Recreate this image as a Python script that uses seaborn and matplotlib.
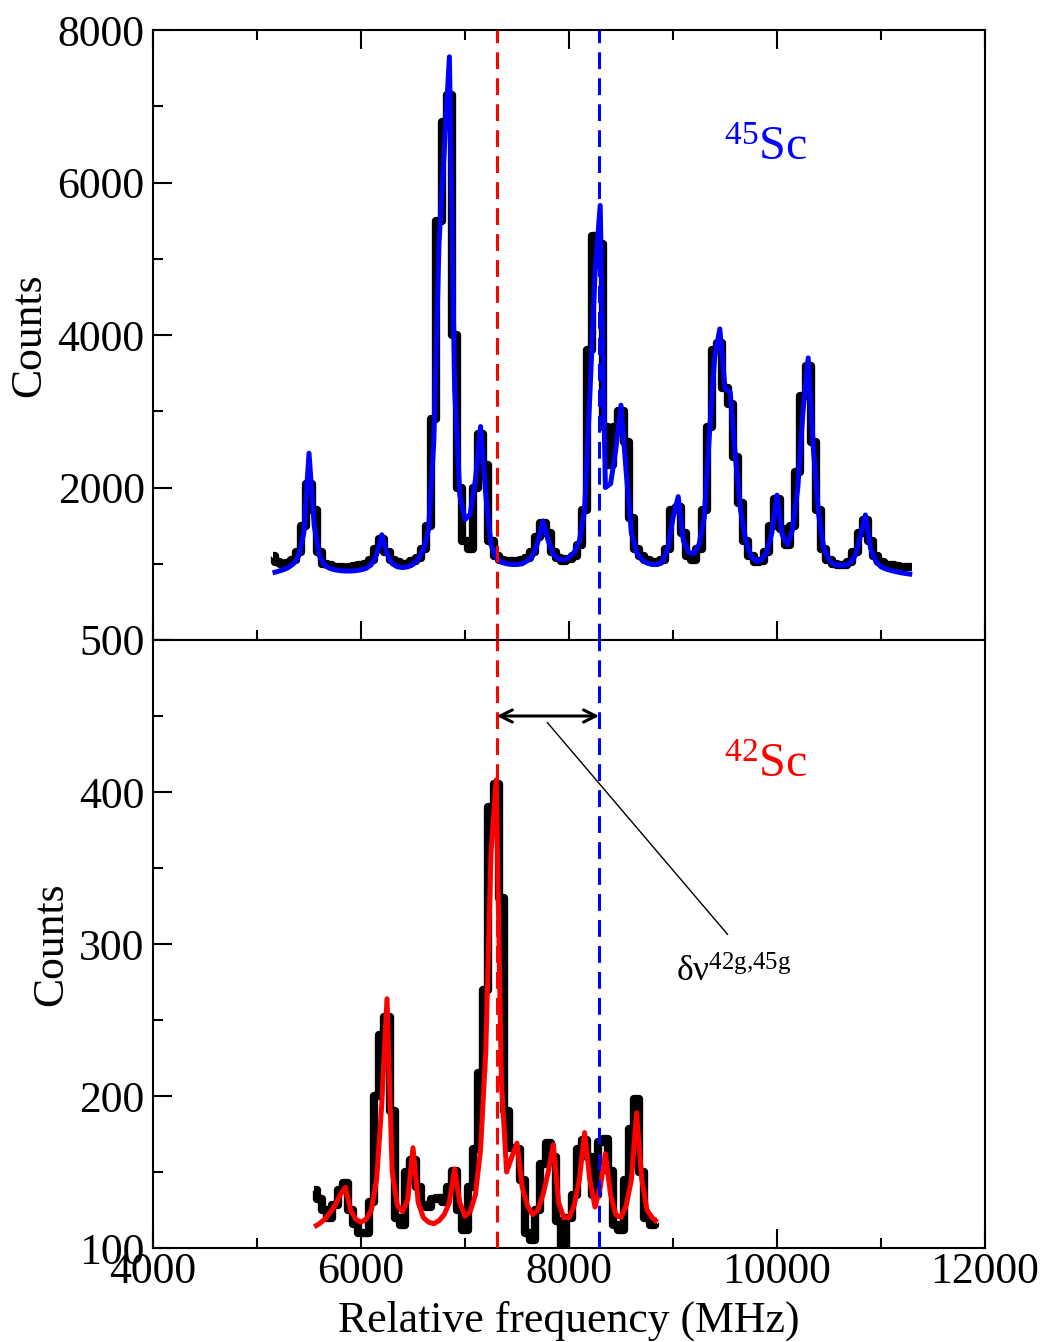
import numpy as np
import pandas as pd
import matplotlib
matplotlib.use("Agg")
import matplotlib.pyplot as plt
from matplotlib.ticker import MultipleLocator, FixedLocator
import seaborn as sns

# ---------------------------------------------------------------------------
# 45Sc reference spectrum (counts per frequency bin) and its hyperfine fit
# ---------------------------------------------------------------------------
freq_45 = list(range(5150, 11301, 50))
counts_45 = [
    1100, 1020, 1000, 1010, 1050, 1150, 1500, 2050, 1700, 1150,   # 5150-5600
    1000, 980, 960, 960, 950, 960, 970, 980, 1000, 1050,          # 5650-6100
    1200, 1320, 1150, 1050, 1020, 1000, 1000, 1030, 1080, 1200,   # 6150-6600
    1500, 2900, 5500, 6800, 7150, 4000, 2000, 1300, 1200, 2000,   # 6650-7100
    2700, 2300, 1300, 1100, 1050, 1040, 1030, 1030, 1050, 1080,   # 7150-7600
    1150, 1350, 1530, 1400, 1150, 1070, 1040, 1060, 1100, 1250,   # 7650-8100
    1700, 3800, 5300, 5200, 2800, 2300, 2800, 3000, 2600, 1600,   # 8150-8600
    1200, 1100, 1050, 1020, 1020, 1050, 1200, 1700, 1750, 1400,   # 8650-9100
    1100, 1050, 1200, 1700, 2800, 3800, 3900, 3300, 3100, 2400,   # 9150-9600
    1800, 1300, 1100, 1020, 1030, 1150, 1500, 1850, 1450, 1250,   # 9650-10100
    1500, 2200, 3200, 3600, 2600, 1700, 1200, 1050, 1000, 980,    # 10150-10600
    990, 1020, 1150, 1400, 1580, 1300, 1100, 1020, 990, 980,      # 10650-11100
    970, 960, 960, 960,                                           # 11150-11300
]
fit_45 = [
    880, 900, 920, 950, 1000, 1100, 1400, 2450, 1500, 1100,
    980, 940, 920, 910, 905, 905, 910, 920, 940, 990,
    1120, 1380, 1130, 1000, 960, 950, 960, 990, 1060, 1180,
    1450, 2600, 5200, 6400, 7650, 3300, 1900, 1580, 1650, 2100,
    2800, 1900, 1250, 1080, 1020, 1000, 990, 990, 1000, 1040,
    1100, 1280, 1560, 1300, 1120, 1060, 1050, 1080, 1150, 1300,
    1700, 3200, 4800, 5700, 2000, 2050, 2500, 3080, 2200, 1400,
    1150, 1050, 1010, 990, 990, 1030, 1200, 1600, 1880, 1300,
    1150, 1130, 1250, 1600, 2700, 3700, 4080, 3300, 3250, 2400,
    1700, 1300, 1100, 1030, 1050, 1150, 1400, 1900, 1380, 1250,
    1450, 2000, 3000, 3700, 2500, 1650, 1200, 1050, 990, 980,
    980, 1010, 1100, 1350, 1640, 1200, 1030, 960, 930, 910,
    895, 880, 870, 860,
]

# ---------------------------------------------------------------------------
# 42Sc spectrum and its fit
# ---------------------------------------------------------------------------
freq_42 = list(range(5550, 8851, 50))
counts_42 = [
    138, 132, 125, 120, 128, 138, 143, 125, 116, 110,   # 5550-6000
    110, 130, 200, 240, 252, 190, 120, 115, 150, 158,   # 6050-6500
    140, 128, 127, 132, 133, 130, 140, 151, 125, 112,   # 6550-7000
    140, 165, 215, 270, 390, 405, 330, 190, 166, 165,   # 7050-7500
    145, 110, 105, 125, 155, 169, 160, 118, 100, 120,   # 7550-8000
    135, 165, 171, 160, 135, 170, 172, 151, 115, 112,   # 8050-8500
    145, 178, 198, 150, 120, 115, 117,                  # 8550-8850
]
fit_42 = [
    114, 116, 119, 123, 128, 135, 140, 125, 119, 117,
    119, 125, 145, 195, 264, 150, 128, 124, 132, 166,
    130, 120, 117, 116, 118, 122, 130, 152, 130, 121,
    124, 135, 165, 230, 360, 408, 210, 150, 160, 169,
    140, 128, 122, 125, 135, 150, 168, 130, 120, 120,
    128, 145, 176, 145, 127, 140, 162, 135, 122, 120,
    128, 145, 189, 145, 125, 120, 117,
]

# Centroid positions of the two isotopes (MHz)
centroid_42 = 7305
centroid_45 = 8290

df45 = pd.DataFrame({"freq": freq_45, "counts": counts_45, "fit": fit_45})
df42 = pd.DataFrame({"freq": freq_42, "counts": counts_42, "fit": fit_42})

sns.set_theme(style="white")
plt.rcParams["font.family"] = ["Liberation Serif", "DejaVu Serif"]
plt.rcParams["mathtext.fontset"] = "custom"
plt.rcParams["mathtext.rm"] = "Liberation Serif"
plt.rcParams["mathtext.it"] = "Liberation Serif:italic"
plt.rcParams["axes.linewidth"] = 1.5
plt.rcParams["axes.edgecolor"] = "black"
plt.rcParams["text.color"] = "black"
plt.rcParams["axes.labelcolor"] = "black"
plt.rcParams["xtick.color"] = "black"
plt.rcParams["ytick.color"] = "black"
plt.rcParams["lines.solid_capstyle"] = "butt"

fig = plt.figure(figsize=(10.45, 13.42), dpi=100)
ax_top = fig.add_axes([0.1464, 0.5231, 0.7962, 0.4545])
ax_bot = fig.add_axes([0.1464, 0.0700, 0.7962, 0.4531])

TICK_FS = 31.5

# --- upper panel: 45Sc -----------------------------------------------------
sns.lineplot(data=df45, x="freq", y="counts", ax=ax_top, color="black",
             lw=6, drawstyle="steps-mid", estimator=None, zorder=2)
sns.lineplot(data=df45, x="freq", y="fit", ax=ax_top, color="#0000ff",
             lw=3.6, estimator=None, zorder=3)
ax_top.set_xlim(4000, 12000)
ax_top.set_ylim(0, 8000)
ax_top.yaxis.set_major_locator(FixedLocator([0, 2000, 4000, 6000, 8000]))
ax_top.set_yticklabels(["", "2000", "4000", "6000", "8000"])
ax_top.yaxis.set_minor_locator(MultipleLocator(1000))
ax_top.xaxis.set_major_locator(MultipleLocator(2000))
ax_top.xaxis.set_minor_locator(MultipleLocator(1000))
ax_top.tick_params(axis="both", which="both", direction="in", top=True,
                   bottom=True, left=True, right=False, labelbottom=False,
                   labelsize=TICK_FS, colors="black", width=1.5)
ax_top.tick_params(axis="both", which="major", length=14, pad=6)
ax_top.tick_params(axis="both", which="minor", length=7)
ax_top.set_xlabel("")
ax_top.set_ylabel("Counts", fontsize=TICK_FS, labelpad=6)
ax_top.text(9490, 6295, r"$^{45}$Sc", color="#0000ff", fontsize=34.5,
            ha="left", va="baseline")

# --- lower panel: 42Sc -----------------------------------------------------
sns.lineplot(data=df42, x="freq", y="counts", ax=ax_bot, color="black",
             lw=6, drawstyle="steps-mid", estimator=None, zorder=2)
sns.lineplot(data=df42, x="freq", y="fit", ax=ax_bot, color="#ff0000",
             lw=3.6, estimator=None, zorder=3)
ax_bot.set_xlim(4000, 12000)
ax_bot.set_ylim(100, 500)
ax_bot.yaxis.set_major_locator(MultipleLocator(100))
ax_bot.yaxis.set_minor_locator(MultipleLocator(50))
ax_bot.xaxis.set_major_locator(MultipleLocator(2000))
ax_bot.xaxis.set_minor_locator(MultipleLocator(1000))
ax_bot.tick_params(axis="both", which="both", direction="in", top=False,
                   bottom=True, left=True, right=False,
                   labelsize=TICK_FS, colors="black", width=1.5)
ax_bot.tick_params(axis="both", which="major", length=14, pad=6)
ax_bot.tick_params(axis="both", which="minor", length=7)
ax_bot.tick_params(axis="x", which="major", pad=3)
ax_bot.set_xlabel("Relative frequency (MHz)", fontsize=TICK_FS, labelpad=6)
ax_bot.set_ylabel("Counts", fontsize=TICK_FS, labelpad=6)
ax_bot.text(9490, 410, r"$^{42}$Sc", color="#ff0000", fontsize=34.5,
            ha="left", va="baseline")

# Isotope centroids through both panels
for ax in (ax_top, ax_bot):
    ax.axvline(centroid_42, color="#ff0000", lw=2.2, ls=(0, (5.5, 3.0)),
               zorder=4)
    ax.axvline(centroid_45, color="#0000ff", lw=2.2, ls=(0, (5.5, 3.0)),
               zorder=4)

# Isotope shift marker
ax_bot.annotate("", xy=(centroid_42, 450), xytext=(centroid_45, 450),
                arrowprops=dict(arrowstyle="<->", color="black", lw=2.2,
                                mutation_scale=22, shrinkA=0, shrinkB=0),
                zorder=5)
ax_bot.plot([7788, 9529], [446, 306], color="black", lw=1.0, zorder=5)
ax_bot.text(9029, 275, r"$\mathrm{δν}^{\mathrm{42g{,}45g}}$", fontsize=25.5,
            color="black", ha="left", va="baseline")

for ax in (ax_top, ax_bot):
    for side in ("left", "right", "top", "bottom"):
        ax.spines[side].set_visible(True)
        ax.spines[side].set_linewidth(1.5)
        ax.spines[side].set_color("black")

fig.savefig("out.png", dpi=100)
